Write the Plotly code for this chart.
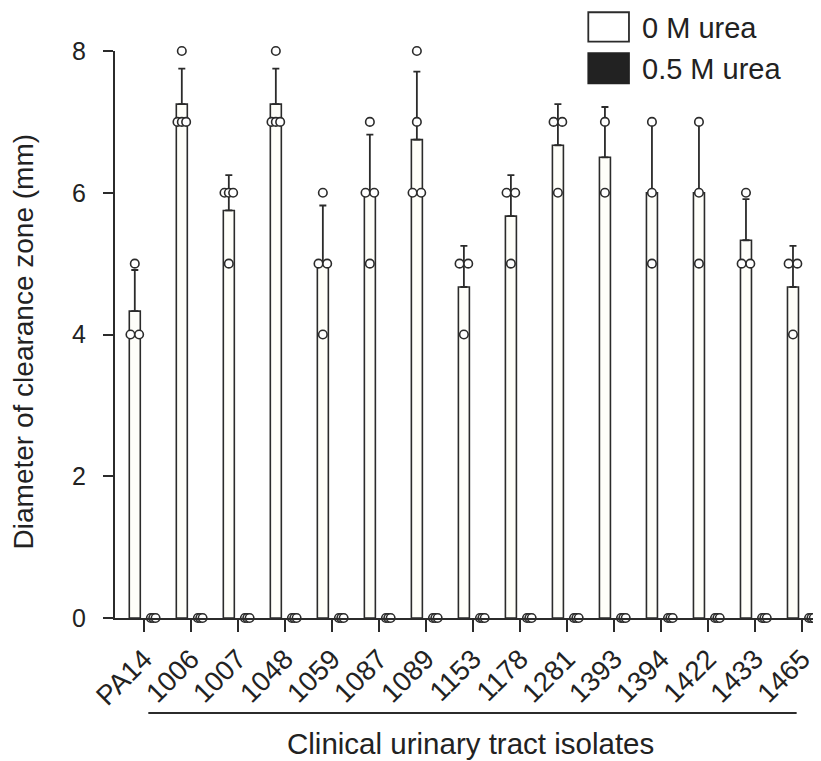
import numpy as np
import plotly.graph_objects as go

# ---------------- data ----------------
categories = ["PA14", "1006", "1007", "1048", "1059", "1087", "1089", "1153",
              "1178", "1281", "1393", "1394", "1422", "1433", "1465"]

# individual replicate measurements (mm)
reps_0M = [[5, 4, 4], [8, 7, 7, 7], [6, 6, 6, 5], [8, 7, 7, 7], [6, 5, 5, 4],
           [7, 6, 6, 5], [8, 7, 6, 6], [5, 5, 4], [6, 6, 5], [7, 7, 6],
           [7, 6], [7, 6, 5], [7, 6, 5], [6, 5, 5], [5, 5, 4]]
reps_05M = [[0, 0, 0] for _ in categories]

# bar heights (mean) and upward error (SD)
mean_0M = [4.33, 7.25, 5.75, 7.25, 5.0, 6.0, 6.75, 4.67, 5.67, 6.67,
           6.5, 6.0, 6.0, 5.33, 4.67]
sd_0M = [0.58, 0.5, 0.5, 0.5, 0.82, 0.82, 0.96, 0.58, 0.58, 0.58,
         0.71, 1.0, 1.0, 0.58, 0.58]
mean_05M = [0] * len(categories)

series_names = ["0 M urea", "0.5 M urea"]
y_ticks = [0, 2, 4, 6, 8]

# ---------------- style ----------------
INK = "#2b2b2b"
FONT = "Liberation Sans, Arial, Helvetica, sans-serif"
BAR_W = 0.234
CENTER = 0.196          # half distance between the two bar centres
idx = np.arange(len(categories))


def spread(values, half):
    """horizontal scatter of identical values inside a bar (swarm-like)."""
    out = []
    groups = {}
    for v in values:
        groups[v] = groups.get(v, 0) + 1
    seen = {}
    for v in values:
        n = groups[v]
        k = seen.get(v, 0)
        seen[v] = k + 1
        out.append(0.0 if n == 1 else -half + 2 * half * k / (n - 1))
    return out


fig = go.Figure()

# bars
fig.add_trace(go.Bar(
    x=idx, y=mean_0M, width=BAR_W, offset=-CENTER - BAR_W / 2,
    marker=dict(color="#fefef9", line=dict(color=INK, width=1.6)),
    error_y=dict(type="data", symmetric=False, array=sd_0M,
                 arrayminus=[0] * len(sd_0M), color=INK, thickness=1.8, width=3.5),
    name=series_names[0], showlegend=False))
fig.add_trace(go.Bar(
    x=idx, y=mean_05M, width=BAR_W, offset=CENTER - BAR_W / 2,
    marker=dict(color="#222222", line=dict(color=INK, width=1.6)),
    name=series_names[1], showlegend=False))

# replicate dots
for reps, sign, half in ((reps_0M, -1, 0.092), (reps_05M, 1, 0.05)):
    xs, ys = [], []
    for i, r in enumerate(reps):
        for v, o in zip(r, spread(r, half)):
            xs.append(i + sign * CENTER + o)
            ys.append(v)
    fig.add_trace(go.Scatter(
        x=xs, y=ys, mode="markers", cliponaxis=False, showlegend=False,
        marker=dict(size=8.5, color="white", line=dict(color=INK, width=1.6))))

# legend (drawn) and bracket line
shapes = [
    dict(type="rect", xref="paper", yref="paper", x0=0.6704, x1=0.728,
         y0=1.0164, y1=1.0683, line=dict(color=INK, width=1.8), fillcolor="white"),
    dict(type="rect", xref="paper", yref="paper", x0=0.6704, x1=0.728,
         y0=0.943, y1=0.996, line=dict(color="#222", width=1.8), fillcolor="#222222"),
    dict(type="line", xref="paper", yref="paper", x0=0.0472, x1=0.9655,
         y0=-0.1675, y1=-0.1675, line=dict(color=INK, width=2)),
]
annotations = [
    dict(text=series_names[0], xref="paper", yref="paper", x=0.744, y=1.0414,
         xanchor="left", yanchor="middle", showarrow=False,
         font=dict(size=29, color="#222", family=FONT)),
    dict(text=series_names[1], xref="paper", yref="paper", x=0.744, y=0.969,
         xanchor="left", yanchor="middle", showarrow=False,
         font=dict(size=29, color="#222", family=FONT)),
    dict(text="Clinical urinary tract isolates", xref="paper", yref="paper",
         x=0.504, y=-0.2222, xanchor="center", yanchor="middle", showarrow=False,
         font=dict(size=29.5, color="#222", family=FONT)),
    dict(text="Diameter of clearance zone (mm)", xref="paper", yref="paper",
         x=-0.129, y=0.4877, xanchor="center", yanchor="middle", textangle=-90,
         showarrow=False, font=dict(size=28, color="#222", family=FONT)),
]

# the page body has an 8 px margin, so the figure is 8 px smaller each way
fig.update_layout(
    width=813, height=753,
    margin=dict(l=107, r=0, t=43, b=143),
    paper_bgcolor="white", plot_bgcolor="white",
    barmode="overlay",
    font=dict(family=FONT, color="#222", size=25),
    shapes=shapes, annotations=annotations,
    xaxis=dict(range=[-0.617, 14.40], tickmode="array", tickvals=idx,
               ticktext=categories, tickangle=-45, showline=True,
               linecolor=INK, linewidth=2, ticks="outside", ticklen=12,
               tickwidth=2, tickcolor=INK, showgrid=False, zeroline=False,
               tickfont=dict(size=27.5, family=FONT, color="#222")),
    yaxis=dict(range=[0, 8], tickvals=y_ticks, showline=True, linecolor=INK,
               linewidth=2, ticks="outside", ticklen=10, tickwidth=2,
               tickcolor=INK, showgrid=False, zeroline=False,
               ticklabelstandoff=12,
               tickfont=dict(size=25, family=FONT, color="#222")),
)

fig.write_html("out.html")
